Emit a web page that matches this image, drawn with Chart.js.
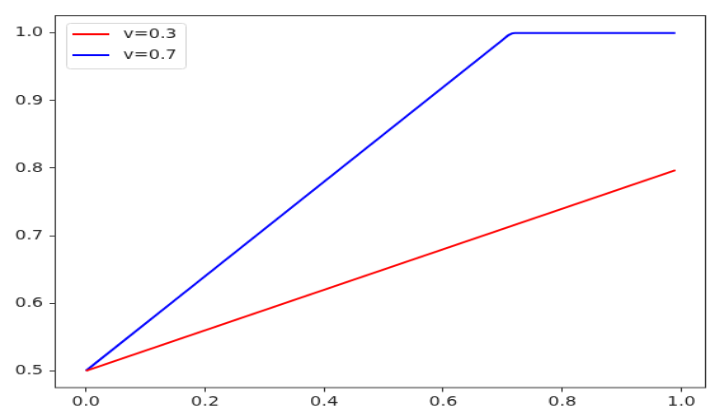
<!DOCTYPE html>
<html>
<head>
<meta charset="utf-8">
<script src="https://cdn.jsdelivr.net/npm/chart.js@4"></script>
<style>
  html, body { margin: 0; padding: 0; background: #fff; overflow: hidden; }
  /* the reference figure is stretched wide and squashed a bit in height */
  #wrap {
    width: 560px; height: 439px; position: absolute; left: 0; top: 0;
    transform: scale(1.27, 0.95); transform-origin: 0 0;
  }
</style>
</head>
<body>
<div id="wrap"><canvas id="chart"></canvas></div>
<script>
// values
const seriesLabels = ["v=0.3", "v=0.7"];
const seriesColors = ["#ff0000", "#0000ff"];
const redX = [0.0, 0.99];
const redY = [0.5, 0.797];
const blueX = [0.0, 0.70, 0.71, 0.72, 0.99];
const blueY = [0.5, 0.99, 0.997, 1.0, 1.0];
const xTicks = [0.0, 0.2, 0.4, 0.6, 0.8, 1.0];
const yTicks = [0.5, 0.6, 0.7, 0.8, 0.9, 1.0];

const FONT = "'DejaVu Sans', sans-serif";

function toPoints(xs, ys) {
    return xs.map((x, i) => ({ x, y: ys[i] }));
}

// matplotlib-like legend drawn inside the axes
const innerLegend = {
    id: "innerLegend",
    afterDraw(chart) {
        const ctx = chart.ctx;
        const x0 = 52, y0 = 24, w = 94, h = 48;
        ctx.save();
        ctx.fillStyle = "rgba(255,255,255,0.8)";
        ctx.strokeStyle = "#d6d6d6";
        ctx.lineWidth = 1;
        ctx.beginPath();
        ctx.roundRect(x0 + 0.5, y0 + 0.5, w, h, 3);
        ctx.fill();
        ctx.stroke();
        ctx.font = "14px " + FONT;
        ctx.textBaseline = "middle";
        chart.data.datasets.forEach((ds, i) => {
            const yy = y0 + 12 + i * 22;
            ctx.strokeStyle = ds.borderColor;
            ctx.lineWidth = 2;
            ctx.beginPath();
            ctx.moveTo(x0 + 5, yy);
            ctx.lineTo(x0 + 34, yy);
            ctx.stroke();
            ctx.fillStyle = "#222";
            ctx.fillText(ds.label, x0 + 45, yy);
        });
        ctx.restore();
    },
};

// full frame around the plot
const frame = {
    id: "frame",
    afterDatasetsDraw(chart) {
        const a = chart.chartArea;
        const ctx = chart.ctx;
        ctx.save();
        ctx.strokeStyle = "#333";
        ctx.lineWidth = 1;
        ctx.strokeRect(a.left - 0.5, a.top - 0.5, a.right - a.left + 1, a.bottom - a.top + 1);
        ctx.restore();
    },
};

const axisCommon = {
    type: "linear",
    grid: { display: true, drawOnChartArea: false, drawTicks: true, tickLength: 5, color: "#333" },
    border: { display: false },
    ticks: {
        color: "#222",
        font: { family: FONT, size: 14 },
        padding: 5,
        callback: (v) => Number(v).toFixed(1),
    },
};

new Chart(document.getElementById("chart"), {
    type: "scatter",
    data: {
        datasets: [
            {
                label: seriesLabels[0],
                data: toPoints(redX, redY),
                showLine: true,
                borderColor: seriesColors[0],
                backgroundColor: seriesColors[0],
                borderWidth: 2,
                pointRadius: 0,
                fill: false,
            },
            {
                label: seriesLabels[1],
                data: toPoints(blueX, blueY),
                showLine: true,
                borderColor: seriesColors[1],
                backgroundColor: seriesColors[1],
                borderWidth: 2,
                pointRadius: 0,
                fill: false,
                cubicInterpolationMode: "monotone",
            },
        ],
    },
    options: {
        responsive: true,
        maintainAspectRatio: false,
        animation: false,
        layout: { padding: { left: 0, right: 5, top: 17, bottom: 0 } },
        plugins: {
            legend: { display: false },
            tooltip: { enabled: false },
        },
        scales: {
            x: {
                ...axisCommon,
                min: -0.0504,
                max: 1.0395,
                afterBuildTicks: (s) => { s.ticks = xTicks.map((v) => ({ value: v })); },
                afterFit: (s) => { s.height = 31.5; },
                ticks: { ...axisCommon.ticks, padding: 2, maxRotation: 0 },
            },
            y: {
                ...axisCommon,
                min: 0.4758,
                max: 1.025,
                afterBuildTicks: (s) => { s.ticks = yTicks.map((v) => ({ value: v })); },
                afterFit: (s) => { s.width = 44; },
            },
        },
    },
    plugins: [frame, innerLegend],
});
</script>
</body>
</html>
